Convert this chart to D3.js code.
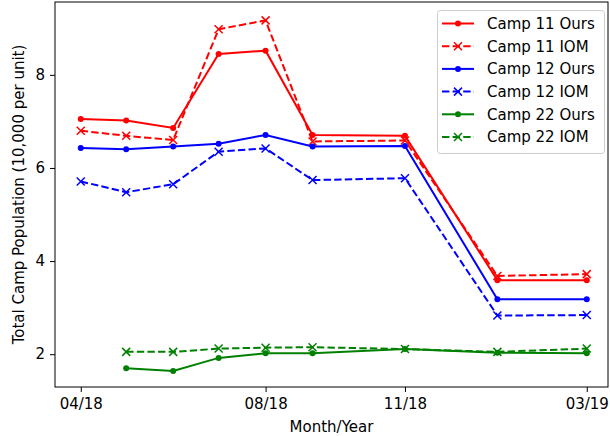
<!DOCTYPE html>
<html><head><meta charset="utf-8">
<script src="https://cdn.jsdelivr.net/npm/d3@7"></script>
<style>body{margin:0;background:#fff}svg{display:block}text{font-family:"DejaVu Sans",sans-serif}</style>
</head><body><svg id="c" width="610" height="436"></svg>
<script>
const months = ["2018-04","2018-05","2018-06","2018-07","2018-08","2018-09","2018-11","2019-01","2019-03"];
const camp11Ours = [7.05,7.02,6.86,8.45,8.52,6.71,6.69,3.59,3.59];
const camp11IOM  = [6.80,6.69,6.60,8.98,9.17,6.57,6.59,3.68,3.72];
const camp12Ours = [6.43,6.40,6.46,6.52,6.71,6.46,6.47,3.18,3.18];
const camp12IOM  = [5.71,5.48,5.65,6.35,6.42,5.74,5.78,2.83,2.84];
const camp22Ours = [null,1.70,1.64,1.92,2.02,2.02,2.11,2.03,2.02];
const camp22IOM  = [null,2.05,2.05,2.12,2.14,2.15,2.11,2.05,2.12];
const xTicks = ["2018-04","2018-08","2018-11","2019-03"];
const yTicks = [2,4,6,8];

const series = [
  {name:"Camp 11 Ours", values:camp11Ours, color:"#ff0000", dashed:false},
  {name:"Camp 11 IOM", values:camp11IOM, color:"#ff0000", dashed:true},
  {name:"Camp 12 Ours", values:camp12Ours, color:"#0000ff", dashed:false},
  {name:"Camp 12 IOM", values:camp12IOM, color:"#0000ff", dashed:true},
  {name:"Camp 22 Ours", values:camp22Ours, color:"#008000", dashed:false},
  {name:"Camp 22 IOM", values:camp22IOM, color:"#008000", dashed:true}
];
const FS = 15;
const parse = d3.timeParse("%Y-%m");
const dates = months.map(parse);
const svg = d3.select("#c");
const L=55, R=608, T=2, B=387;
const d0 = d3.timeDay.offset(dates[0], -16.7), d1 = d3.timeDay.offset(dates[dates.length-1], 16.7);
const x = d3.scaleTime().domain([d0,d1]).range([L,R+3]);
const y = d3.scaleLinear().domain([1.295,9.565]).range([B,T]);

const fmt = d3.timeFormat("%m/%y");
const xa = svg.append("g").attr("transform",`translate(0,${B})`)
  .call(d3.axisBottom(x).tickValues(xTicks.map(parse)).tickFormat(fmt).tickSizeOuter(0).tickSize(5).tickPadding(4));
const ya = svg.append("g").attr("transform",`translate(${L},0)`)
  .call(d3.axisLeft(y).tickValues(yTicks).tickFormat(d3.format("d")).tickSizeOuter(0).tickSize(5).tickPadding(5));
[xa,ya].forEach(a=>{a.attr("font-size",FS).attr("font-family","DejaVu Sans");a.select(".domain").remove();a.selectAll("text").attr("font-size",FS).attr("fill","#000");a.selectAll("line").attr("stroke","#000").attr("stroke-width",1);});
xa.selectAll("text").attr("dy","0.85em");

const plot = svg.append("g");
const line = d3.line().defined(d=>d.v!=null).x(d=>x(d.d)).y(d=>y(d.v));
series.forEach(s=>{
  const pts = s.values.map((v,i)=>({d:dates[i],v}));
  plot.append("path").datum(pts).attr("d",line).attr("fill","none").attr("stroke",s.color)
    .attr("stroke-width",2).attr("stroke-dasharray",s.dashed?"7.4,3.2":null);
  const valid = pts.filter(p=>p.v!=null);
  if(s.dashed){
    plot.selectAll(null).data(valid).enter().append("path")
      .attr("d","M-4,-4L4,4M-4,4L4,-4").attr("transform",p=>`translate(${x(p.d)},${y(p.v)})`)
      .attr("stroke",s.color).attr("stroke-width",1.5).attr("fill","none");
  } else {
    plot.selectAll(null).data(valid).enter().append("circle")
      .attr("cx",p=>x(p.d)).attr("cy",p=>y(p.v)).attr("r",3).attr("fill",s.color);
  }
});

svg.append("rect").attr("x",L).attr("y",T).attr("width",R-L).attr("height",B-T)
  .attr("fill","none").attr("stroke","#000").attr("stroke-width",1);

// legend
const lg = svg.append("g");
lg.append("rect").attr("x",437.5).attr("y",10.5).attr("width",167).attr("height",143).attr("rx",3)
  .attr("fill","#fff").attr("fill-opacity",0.8).attr("stroke","#ccc").attr("stroke-width",1);
series.forEach((s,i)=>{
  const yy = 23.5 + i*22.7;
  lg.append("line").attr("x1",442).attr("x2",474).attr("y1",yy).attr("y2",yy).attr("stroke",s.color)
    .attr("stroke-width",2).attr("stroke-dasharray",s.dashed?"7.4,3.2":null);
  if(s.dashed){
    lg.append("path").attr("d","M-4,-4L4,4M-4,4L4,-4").attr("transform",`translate(458,${yy})`)
      .attr("stroke",s.color).attr("stroke-width",1.5);
  } else {
    lg.append("circle").attr("cx",458).attr("cy",yy).attr("r",3).attr("fill",s.color);
  }
  lg.append("text").attr("x",487).attr("y",yy).attr("dy","0.36em").attr("font-size",FS).text(s.name);
});

svg.append("text").attr("x",(L+R)/2).attr("y",432).attr("text-anchor","middle").attr("font-size",FS).text("Month/Year");
svg.append("text").attr("transform",`translate(24,${(T+B)/2}) rotate(-90)`).attr("text-anchor","middle")
  .attr("font-size",FS).text("Total Camp Population (10,000 per unit)");
</script></body></html>
